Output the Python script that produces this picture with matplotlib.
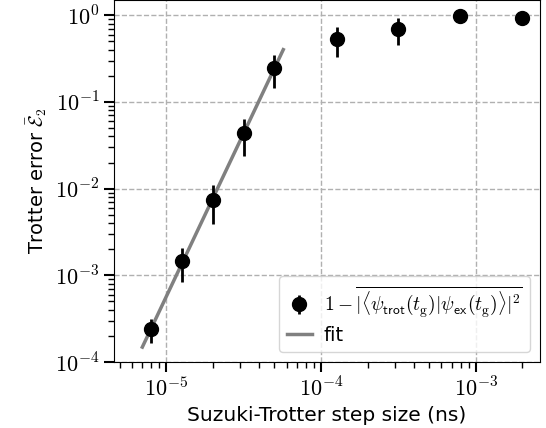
import numpy as np
import matplotlib
matplotlib.use("Agg")
import matplotlib.pyplot as plt
from matplotlib.ticker import FuncFormatter, LogLocator

plt.rcParams['font.family'] = ['DejaVu Sans']
plt.rcParams['mathtext.fontset'] = 'cm'

step = [8e-6, 1.26e-5, 2.0e-5, 3.16e-5, 5.0e-5, 1.26e-4, 3.16e-4, 7.9e-4, 2.0e-3]
err = [2.4e-4, 1.45e-3, 7.4e-3, 4.4e-2, 0.245, 0.53, 0.69, 0.99, 0.93]
err_sd = [0.75e-4, 0.6e-3, 3.5e-3, 0.02, 0.1, 0.2, 0.24, 0.01, 0.01]
n_fit = 5
fit_range = [7.0e-6, 5.7e-5]

fig = plt.figure(figsize=(5.46, 4.28), dpi=100)
ax = fig.add_axes([0.209, 0.154, 0.78, 0.846])

eb = ax.errorbar(step, err, yerr=err_sd, fmt='o', color='black', ms=10, elinewidth=2,
                 capsize=0, zorder=3,
                 label=r'$1-\overline{|\langle\psi_{\mathsf{trot}}(t_{\mathrm{g}})|\psi_{\mathsf{ex}}(t_{\mathrm{g}})\rangle|^2}$')

p = np.polyfit(np.log10(step[:n_fit]), np.log10(err[:n_fit]), 1)
xf = np.logspace(np.log10(fit_range[0]), np.log10(fit_range[1]), 50)
ln, = ax.plot(xf, 10**np.polyval(p, np.log10(xf)), color='grey', lw=2.5, label='fit', zorder=2)

ax.set_xscale('log')
ax.set_yscale('log')
ax.set_xlim(4.6e-6, 2.6e-3)
ax.set_ylim(1e-4, 1.5)
fmt = FuncFormatter(lambda v, pos: r'$10^{%d}$' % int(round(np.log10(v))))
ax.xaxis.set_major_locator(LogLocator(base=10, numticks=10))
ax.yaxis.set_major_locator(LogLocator(base=10, numticks=10))
ax.xaxis.set_major_formatter(fmt)
ax.yaxis.set_major_formatter(fmt)
ax.grid(True, which='major', ls='--', color='#b0b0b0', lw=1)
ax.tick_params(which='major', length=7, width=1.5, labelsize=16)
ax.tick_params(which='minor', length=4, width=1)
ax.set_xlabel('Suzuki-Trotter step size (ns)', fontsize=14.5)
ax.set_ylabel(r'Trotter error $\bar{\mathcal{E}}_2$', fontsize=14)
ax.legend([eb, ln], [eb.get_label(), 'fit'], loc='lower right', fontsize=14,
          handlelength=1.3, handletextpad=0.6, borderaxespad=0.5, borderpad=0.4,
          labelspacing=0.3)

fig.savefig('out.png', dpi=100)
